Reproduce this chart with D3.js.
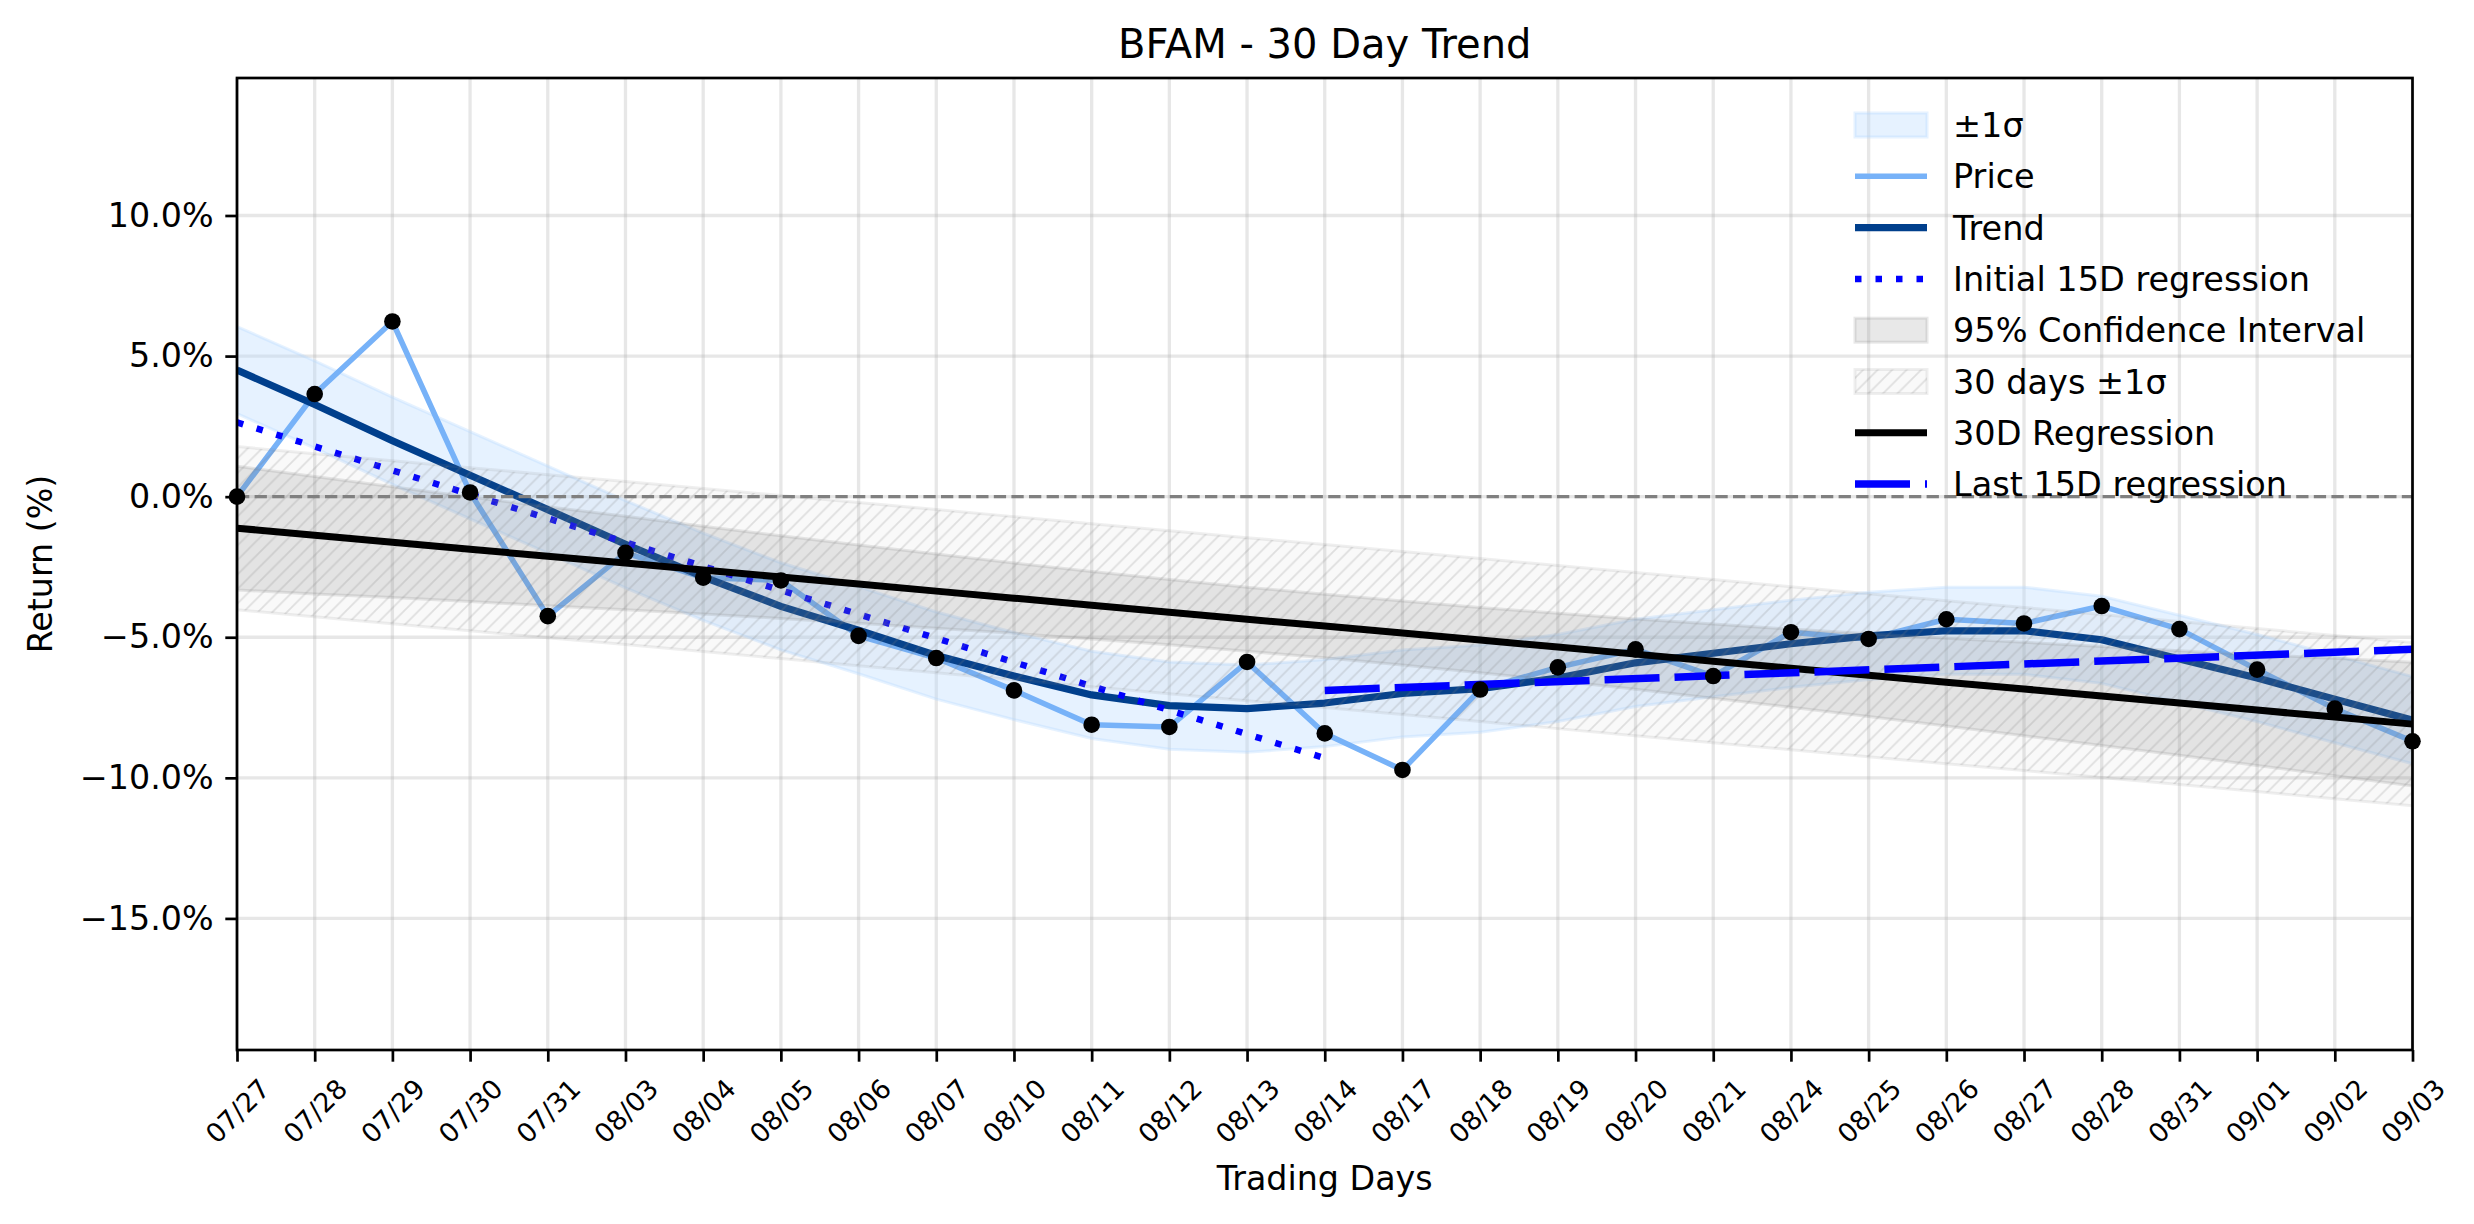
<!DOCTYPE html>
<html>
<head>
<meta charset="utf-8">
<script src="https://cdn.jsdelivr.net/npm/d3@7/dist/d3.min.js"></script>
<style>
  body { margin: 0; background: #fff; }
  text { font-family: "DejaVu Sans", sans-serif; fill: #000; }
</style>
</head>
<body>
<div id="chart"></div>
<script>
// ---- Data (% return) ----
const days = ["07/27","07/28","07/29","07/30","07/31","08/03","08/04","08/05","08/06","08/07",
              "08/10","08/11","08/12","08/13","08/14","08/17","08/18","08/19","08/20","08/21",
              "08/24","08/25","08/26","08/27","08/28","08/31","09/01","09/02","09/03"];
const price = [0.0, 3.65, 6.23, 0.15, -4.25, -2.0, -2.88, -2.98, -4.95, -5.74,
               -6.89, -8.11, -8.19, -5.88, -8.42, -9.72, -6.86, -6.07, -5.43, -6.38,
               -4.82, -5.06, -4.36, -4.51, -3.89, -4.71, -6.15, -7.54, -8.70];
const trend = [4.5, 3.28, 1.99, 0.76, -0.46, -1.69, -2.85, -3.9, -4.75, -5.65,
               -6.38, -7.05, -7.43, -7.54, -7.34, -7.0, -6.83, -6.45, -5.91, -5.57,
               -5.23, -4.95, -4.77, -4.77, -5.09, -5.77, -6.45, -7.2, -7.95];
const trendSigma = 1.55;
const reg30 = [-1.12, -1.37, -1.62, -1.87, -2.12, -2.36, -2.61, -2.86, -3.11, -3.36,
               -3.61, -3.86, -4.11, -4.36, -4.60, -4.85, -5.10, -5.35, -5.60, -5.85,
               -6.10, -6.35, -6.60, -6.84, -7.09, -7.34, -7.59, -7.84, -8.09];
const ci95 = [2.20, 2.09, 1.97, 1.86, 1.76, 1.66, 1.56, 1.47, 1.39, 1.32,
              1.25, 1.20, 1.16, 1.14, 1.13, 1.14, 1.16, 1.20, 1.25, 1.32,
              1.39, 1.47, 1.56, 1.66, 1.76, 1.86, 1.97, 2.09, 2.20];
const sigma30 = 2.9;
const initReg = [{i: 0, v: 2.64}, {i: 14, v: -9.30}];
const lastReg = [{i: 14, v: -6.89}, {i: 28, v: -5.43}];
const yTicks = [10, 5, 0, -5, -10, -15];
const yDomain = [-19.68, 14.89];

// ---- Layout ----
const width = 2474, height = 1224;
const margin = {top: 78, right: 2474 - 2412.5, bottom: 1224 - 1050, left: 237};

const svg = d3.select("#chart").append("svg")
  .attr("width", width).attr("height", height)
  .style("display", "block");
svg.append("rect").attr("width", width).attr("height", height).attr("fill", "#fff");

const x = d3.scaleLinear().domain([0, days.length - 1]).range([margin.left, width - margin.right]);
const y = d3.scaleLinear().domain(yDomain).range([height - margin.bottom, margin.top]);

const defs = svg.append("defs");
defs.append("clipPath").attr("id", "plot-clip")
  .append("rect")
    .attr("x", margin.left).attr("y", margin.top)
    .attr("width", x.range()[1] - margin.left)
    .attr("height", y.range()[0] - margin.top);

// hatch for the 30 day band
const hatch = defs.append("pattern")
  .attr("id", "hatch")
  .attr("patternUnits", "userSpaceOnUse")
  .attr("width", 14.5).attr("height", 14.5);
hatch.append("path")
  .attr("d", "M-3.6,3.6 L3.6,-3.6 M0,14.5 L14.5,0 M10.9,18.1 L18.1,10.9")
  .attr("stroke", "#808080").attr("stroke-opacity", 0.22).attr("stroke-width", 1.8);

// ---- Grid ----
const grid = svg.append("g").attr("id", "grid");
grid.selectAll(".vgrid").data(days).join("line")
  .attr("x1", (d, i) => x(i)).attr("x2", (d, i) => x(i))
  .attr("y1", margin.top).attr("y2", y.range()[0])
  .attr("stroke", "#b0b0b0").attr("stroke-opacity", 0.3).attr("stroke-width", 3.3);
grid.selectAll(".hgrid").data(yTicks).join("line")
  .attr("x1", margin.left).attr("x2", x.range()[1])
  .attr("y1", d => y(d)).attr("y2", d => y(d))
  .attr("stroke", "#b0b0b0").attr("stroke-opacity", 0.3).attr("stroke-width", 3.3);

const plot = svg.append("g").attr("clip-path", "url(#plot-clip)");

const area = (lo, hi) => d3.area()
  .x((d, i) => x(i))
  .y0((d, i) => y(lo(d, i)))
  .y1((d, i) => y(hi(d, i)));
const line = d3.line().x((d, i) => x(i)).y(d => y(d));
const segLine = d3.line().x(d => x(d.i)).y(d => y(d.v));

// +-1 sigma around trend
plot.append("path")
  .datum(trend)
  .attr("d", area(d => d - trendSigma, d => d + trendSigma))
  .attr("fill", "#b3d7ff").attr("fill-opacity", 0.33)
  .attr("stroke", "#b3d7ff").attr("stroke-opacity", 0.33).attr("stroke-width", 3);

// Price
plot.append("path").datum(price).attr("d", line)
  .attr("fill", "none").attr("stroke", "#77b2f8").attr("stroke-width", 5.5)
  .attr("stroke-linejoin", "round");

// Trend
plot.append("path").datum(trend).attr("d", line)
  .attr("fill", "none").attr("stroke", "#003f8c").attr("stroke-width", 7.2)
  .attr("stroke-linejoin", "round");

// Initial 15D regression
plot.append("path").datum(initReg).attr("d", segLine)
  .attr("fill", "none").attr("stroke", "#0000ff").attr("stroke-width", 6.5)
  .attr("stroke-dasharray", "6.5,14");

// 95% CI
plot.append("path")
  .datum(reg30)
  .attr("d", area((d, i) => d - ci95[i], (d, i) => d + ci95[i]))
  .attr("fill", "#808080").attr("fill-opacity", 0.18)
  .attr("stroke", "#808080").attr("stroke-opacity", 0.18).attr("stroke-width", 3);

// 30 days +-1 sigma (hatched)
const band30 = area(d => d - sigma30, d => d + sigma30);
plot.append("path").datum(reg30).attr("d", band30)
  .attr("fill", "#808080").attr("fill-opacity", 0.05)
  .attr("stroke", "#808080").attr("stroke-opacity", 0.13).attr("stroke-width", 3);
plot.append("path").datum(reg30).attr("d", band30)
  .attr("fill", "url(#hatch)");

// 30D regression
plot.append("path").datum(reg30).attr("d", line)
  .attr("fill", "none").attr("stroke", "#000").attr("stroke-width", 7);

// Last 15D regression
plot.append("path").datum(lastReg).attr("d", segLine)
  .attr("fill", "none").attr("stroke", "#0000ff").attr("stroke-width", 7.5)
  .attr("stroke-dasharray", "55,15");

// Zero line
plot.append("line")
  .attr("x1", margin.left).attr("x2", x.range()[1])
  .attr("y1", y(0)).attr("y2", y(0))
  .attr("stroke", "#808080").attr("stroke-width", 3.3)
  .attr("stroke-dasharray", "12.3,5.3");

// Price points
svg.append("g").attr("id", "points")
  .selectAll("circle").data(price).join("circle")
  .attr("cx", (d, i) => x(i)).attr("cy", d => y(d)).attr("r", 8.3)
  .attr("fill", "#000");

// ---- Axes ----
const fmt = d3.format(".1f");
const xAxis = svg.append("g")
  .attr("transform", `translate(0,${y.range()[0]})`)
  .call(d3.axisBottom(x).tickValues(d3.range(days.length)).tickFormat(i => days[i])
    .tickSize(11.7).tickPadding(11.7));
const yAxis = svg.append("g")
  .attr("transform", `translate(${margin.left},0)`)
  .call(d3.axisLeft(y).tickValues(yTicks).tickFormat(d => fmt(d) + "%")
    .tickSize(11.7).tickPadding(11.7));
[xAxis, yAxis].forEach(g => {
  g.select(".domain").remove();
  g.selectAll(".tick line").attr("stroke", "#000").attr("stroke-width", 2.7);
});
yAxis.selectAll(".tick text").attr("font-size", 33.3).attr("font-family", "DejaVu Sans");
xAxis.selectAll(".tick text")
  .attr("font-size", 26.7).attr("font-family", "DejaVu Sans")
  .attr("y", 0).attr("dy", null)
  .attr("text-anchor", "middle").attr("dominant-baseline", "central")
  .attr("transform", "translate(0,61) rotate(-45)");

// spines
svg.append("rect")
  .attr("x", margin.left).attr("y", margin.top)
  .attr("width", x.range()[1] - margin.left).attr("height", y.range()[0] - margin.top)
  .attr("fill", "none").attr("stroke", "#000").attr("stroke-width", 2.7);

// labels
svg.append("text").text("BFAM - 30 Day Trend")
  .attr("x", (margin.left + x.range()[1]) / 2).attr("y", 58)
  .attr("text-anchor", "middle").attr("font-size", 40);
svg.append("text").text("Trading Days")
  .attr("x", (margin.left + x.range()[1]) / 2).attr("y", 1190)
  .attr("text-anchor", "middle").attr("font-size", 33.3);
svg.append("text").text("Return (%)")
  .attr("transform", `translate(52,${(margin.top + y.range()[0]) / 2}) rotate(-90)`)
  .attr("text-anchor", "middle").attr("font-size", 33.3);

// ---- Legend ----
const legendItems = [
  {label: "±1σ", kind: "patch", fill: "#b3d7ff", op: 0.33},
  {label: "Price", kind: "line", color: "#77b2f8", w: 5.5},
  {label: "Trend", kind: "line", color: "#003f8c", w: 7.2},
  {label: "Initial 15D regression", kind: "line", color: "#0000ff", w: 6.5, dash: "6.5,14"},
  {label: "95% Confidence Interval", kind: "patch", fill: "#808080", op: 0.18},
  {label: "30 days ±1σ", kind: "hatch"},
  {label: "30D Regression", kind: "line", color: "#000", w: 7},
  {label: "Last 15D regression", kind: "line", color: "#0000ff", w: 7.5, dash: "55,15"}
];
const lx0 = 1855, lx1 = 1927, ly0 = 125, lstep = 51.3, lfs = 33.5;
const legend = svg.append("g").attr("id", "legend");
legendItems.forEach((it, k) => {
  const cy = ly0 + k * lstep;
  const g = legend.append("g");
  if (it.kind === "line") {
    g.append("line").attr("x1", lx0).attr("x2", lx1).attr("y1", cy).attr("y2", cy)
      .attr("stroke", it.color).attr("stroke-width", it.w)
      .attr("stroke-dasharray", it.dash || null);
  } else if (it.kind === "patch") {
    g.append("rect").attr("x", lx0).attr("y", cy - 12).attr("width", lx1 - lx0).attr("height", 24)
      .attr("fill", it.fill).attr("fill-opacity", it.op)
      .attr("stroke", it.fill).attr("stroke-opacity", it.op).attr("stroke-width", 3);
  } else {
    g.append("rect").attr("x", lx0).attr("y", cy - 12).attr("width", lx1 - lx0).attr("height", 24)
      .attr("fill", "#808080").attr("fill-opacity", 0.05)
      .attr("stroke", "#808080").attr("stroke-opacity", 0.13).attr("stroke-width", 3);
    g.append("rect").attr("x", lx0).attr("y", cy - 12).attr("width", lx1 - lx0).attr("height", 24)
      .attr("fill", "url(#hatch)");
  }
  g.append("text").text(it.label)
    .attr("x", 1953).attr("y", cy + 0.36 * lfs)
    .attr("font-size", lfs);
});
</script>
</body>
</html>
